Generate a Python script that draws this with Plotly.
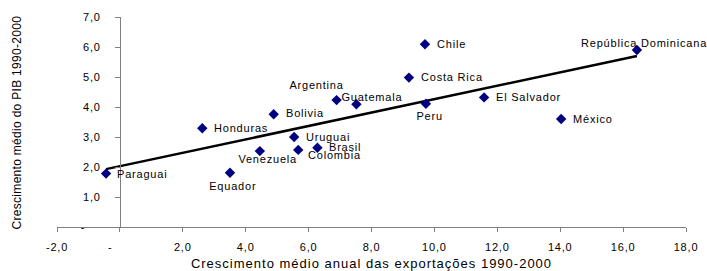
import numpy as np
import plotly.graph_objects as go

# ---- data ----
countries = ["Paraguai", "Equador", "Venezuela", "Uruguai", "Colombia", "Brasil",
             "Honduras", "Bolivia", "Argentina", "Guatemala", "Chile", "Costa Rica",
             "Peru", "El Salvador", "México", "República Dominicana"]
export_growth = [-0.44, 3.50, 4.45, 5.54, 5.67, 6.28, 2.62, 4.89, 6.89, 7.52,
                 9.70, 9.19, 9.73, 11.58, 14.03, 16.44]
gdp_growth = [1.78, 1.81, 2.53, 3.00, 2.57, 2.64, 3.29, 3.76, 4.23, 4.09,
              6.09, 4.98, 4.11, 4.32, 3.60, 5.90]

x_tickvals = [-2, 0, 2, 4, 6, 8, 10, 12, 14, 16, 18]
x_ticktext = ["-2,0", "-" + "\u00a0" * 5, "2,0", "4,0", "6,0", "8,0", "10,0",
              "12,0", "14,0", "16,0", "18,0"]
y_tickvals = [0, 1, 2, 3, 4, 5, 6, 7]
y_ticktext = ["-" + "\u00a0" * 4, "1,0", "2,0", "3,0", "4,0", "5,0", "6,0", "7,0"]

x_title = "Crescimento médio anual das exportações 1990-2000"
y_title = "Crescimento médio do PIB 1990-2000"

# label placement (styling): xanchor, xshift, yshift in px
label_style = {
    "Paraguai": ("left", 9, 0), "Equador": ("center", 3, -13),
    "Venezuela": ("center", 8, -8), "Uruguai": ("left", 10, 0),
    "Colombia": ("left", 8, -5), "Brasil": ("left", 10, 1),
    "Honduras": ("left", 10, 0), "Bolivia": ("left", 10, 1),
    "Argentina": ("center", -20, 15), "Guatemala": ("center", 16, 7),
    "Chile": ("left", 10, 0), "Costa Rica": ("left", 10, 1),
    "Peru": ("center", 4, -12), "El Salvador": ("left", 10, 0),
    "México": ("left", 10, 0), "República Dominicana": ("center", 8, 7),
}

FONT = "Liberation Sans, Arial, sans-serif"

# linear trend (least squares, like the spreadsheet trendline)
slope, intercept = np.polyfit(export_growth, gdp_growth, 1)
tx = np.array([min(export_growth), max(export_growth)])
ty = slope * tx + intercept

fig = go.Figure()
fig.add_trace(go.Scatter(x=tx, y=ty, mode="lines",
                         line=dict(color="black", width=2.5), hoverinfo="skip"))
fig.add_trace(go.Scatter(x=export_growth, y=gdp_growth, mode="markers",
                         marker=dict(symbol="diamond", size=8, color="#000080"),
                         text=countries))

annotations = []
for c, xv, yv in zip(countries, export_growth, gdp_growth):
    anchor, xs, ys = label_style[c]
    annotations.append(dict(x=xv, y=yv, xref="x", yref="y", text=c, showarrow=False,
                            xanchor=anchor, yanchor="middle", xshift=xs, yshift=ys,
                            align="left" if anchor == "left" else "center",
                            font=dict(family=FONT, size=11, color="black")))
annotations.append(dict(x=-0.063, y=0.5, xref="paper", yref="paper", text=y_title,
                        showarrow=False, textangle=-90, xanchor="center", yanchor="middle",
                        font=dict(family=FONT, size=12, color="black")))

fig.update_layout(
    width=707, height=271,
    margin=dict(l=57, r=21, t=17, b=44, autoexpand=False),
    paper_bgcolor="white", plot_bgcolor="white",
    showlegend=False,
    font=dict(family=FONT, size=11, color="black"),
    annotations=annotations,
    xaxis=dict(range=[-2, 18], tickvals=x_tickvals, ticktext=x_ticktext,
               showgrid=False, zeroline=False, showline=True, linecolor="#808080",
               linewidth=1, ticks="outside", ticklen=4, tickcolor="#808080",
               ticklabelstandoff=6, automargin=False,
               tickfont=dict(family=FONT, size=11, color="black"),
               title=dict(text=x_title, standoff=6,
                          font=dict(family=FONT, size=13, color="black"))),
    yaxis=dict(range=[0, 7], tickvals=y_tickvals, ticktext=y_ticktext,
               anchor="free", position=0.1, automargin=False,
               showgrid=False, zeroline=False, showline=True, linecolor="#808080",
               linewidth=1, ticks="outside", ticklen=5, tickcolor="#808080",
               ticklabelstandoff=12,
               tickfont=dict(family=FONT, size=11, color="black")),
)

post = """
document.body.style.margin = '0px';
document.body.style.padding = '0px';
var gd = document.getElementById('{plot_id}');
function spacing(){
  gd.querySelectorAll('.xtick text, .ytick text').forEach(function(t){t.style.letterSpacing='0.8px';});
  gd.querySelectorAll('.annotation').forEach(function(a){
    var t = a.querySelector('.annotation-text');
    if(!t) return;
    t.style.letterSpacing = (a.getAttribute('data-index') === '16') ? '0.3px' : '0.8px';
  });
  gd.querySelectorAll('.xtitle').forEach(function(t){t.style.letterSpacing='1px';});
}
spacing();
gd.on('plotly_afterplot', spacing);
"""

fig.write_html("out.html", post_script=post, config={"displayModeBar": False})
